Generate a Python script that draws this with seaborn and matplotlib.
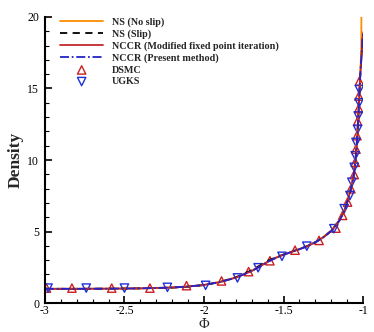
import numpy as np
import pandas as pd
import matplotlib
matplotlib.use("Agg")
import matplotlib.pyplot as plt
import seaborn as sns
from matplotlib.ticker import MultipleLocator


# NCCR (present method) profile, also used as base for the overlapping curves
PHI_CURVE = [-3.0, -2.8, -2.6, -2.4, -2.2, -2.1, -2.0, -1.9, -1.8, -1.7, -1.65, -1.6,
             -1.55, -1.5, -1.45, -1.4, -1.35, -1.3, -1.25, -1.2, -1.15, -1.12, -1.1,
             -1.08, -1.06, -1.05, -1.045, -1.04, -1.035, -1.03, -1.025, -1.02, -1.015,
             -1.01, -1.005, -1.0]
RHO_PRESENT = [1.0, 1.0, 1.01, 1.03, 1.09, 1.16, 1.27, 1.47, 1.78, 2.25, 2.55, 2.88,
               3.15, 3.38, 3.58, 3.77, 3.98, 4.25, 4.6, 5.05, 5.75, 6.4, 7.05,
               7.85, 8.85, 9.8, 10.4, 11.1, 12.0, 13.0, 14.3, 15.6, 16.5,
               17.3, 18.3, 19.0]
RHO_MODIFIED = [1.0, 1.0, 1.01, 1.03, 1.09, 1.16, 1.27, 1.47, 1.78, 2.24, 2.55, 2.89,
                3.16, 3.38, 3.58, 3.77, 3.98, 4.25, 4.6, 5.05, 5.75, 6.4, 7.05,
                7.85, 8.85, 9.8, 10.4, 11.1, 12.0, 13.0, 14.3, 15.6, 16.5,
                17.3, 18.2, 18.9]
RHO_NS_SLIP = [1.0, 1.0, 1.01, 1.03, 1.08, 1.15, 1.26, 1.48, 1.8, 2.3, 2.62, 2.95,
               3.2, 3.4, 3.59, 3.78, 3.99, 4.26, 4.6, 5.05, 5.75, 6.4, 7.05,
               7.85, 8.85, 9.8, 10.4, 11.1, 12.0, 13.0, 14.3, 15.6, 16.5,
               17.3, 18.2, 18.9]

PHI_NOSLIP = [-3.0, -2.8, -2.6, -2.4, -2.2, -2.1, -2.0, -1.9, -1.8, -1.7, -1.65, -1.6,
              -1.55, -1.5, -1.45, -1.4, -1.35, -1.3, -1.25, -1.2, -1.15, -1.12, -1.1,
              -1.08, -1.06, -1.05, -1.04, -1.03, -1.025, -1.02, -1.015, -1.012, -1.011]
RHO_NOSLIP = [1.0, 1.0, 1.01, 1.03, 1.09, 1.16, 1.27, 1.48, 1.8, 2.27, 2.58, 2.9,
              3.17, 3.39, 3.59, 3.78, 3.99, 4.27, 4.62, 5.08, 5.8, 6.45, 7.1,
              7.95, 9.0, 10.0, 11.4, 13.4, 14.4, 15.4, 16.9, 18.0, 20.0]

PHI_DSMC = [-2.99, -2.83, -2.58, -2.34, -2.11, -1.89, -1.72, -1.586, -1.428, -1.277,
            -1.171, -1.129, -1.098, -1.077, -1.056, -1.050, -1.045, -1.039, -1.035,
            -1.028, -1.027, -1.024]
RHO_DSMC = [1.05, 1.05, 1.05, 1.05, 1.22, 1.55, 2.2, 2.96, 3.7, 4.38,
            5.24, 6.13, 7.06, 7.99, 8.98, 9.84, 10.76, 11.7, 12.7,
            13.6, 14.47, 15.5]

PHI_UGKS = [-2.98, -2.74, -2.50, -2.23, -1.99, -1.79, -1.66, -1.51, -1.354, -1.184,
            -1.119, -1.083, -1.071, -1.056, -1.050, -1.045, -1.035, -1.031, -1.025, -1.024]
RHO_UGKS = [1.05, 1.05, 1.05, 1.1, 1.24, 1.76, 2.47, 3.27, 3.98, 5.2,
            6.6, 7.52, 8.45, 9.49, 10.3, 11.23, 12.15, 13.08, 14.0, 14.93]

X_TICKS = [-3, -2.5, -2, -1.5, -1]
X_TICK_LABELS = ["-3", "-2.5", "-2", "-1.5", "-1"]
Y_TICKS = [0, 5, 10, 15, 20]

SERIF = ["Liberation Serif", "DejaVu Serif"]


def main():
    sns.set_style("ticks")
    plt.rcParams["font.family"] = SERIF

    fig = plt.figure(figsize=(3.74, 3.32), dpi=100)
    ax = fig.add_axes([0.120, 0.087, 0.851, 0.862])

    sns.lineplot(x=PHI_NOSLIP, y=RHO_NOSLIP, ax=ax, sort=False, estimator=None,
                 color="#ff8c00", linewidth=1.3, label="NS (No slip)")
    sns.lineplot(x=PHI_CURVE, y=RHO_NS_SLIP, ax=ax, sort=False, estimator=None,
                 color="black", linewidth=1.3, linestyle=(0, (4, 3)), label="NS (Slip)")
    sns.lineplot(x=PHI_CURVE, y=RHO_MODIFIED, ax=ax, sort=False, estimator=None,
                 color="#c0282e", linewidth=1.3, label="NCCR (Modified fixed point iteration)")
    sns.lineplot(x=PHI_CURVE, y=RHO_PRESENT, ax=ax, sort=False, estimator=None,
                 color="#2323c8", linewidth=1.3, linestyle=(0, (5, 1.5, 1, 1.5)),
                 label="NCCR (Present method)")

    sns.scatterplot(x=PHI_DSMC, y=RHO_DSMC, ax=ax, marker="^", s=36,
                    facecolor="none", edgecolor="#cc1f1f", linewidth=1.0, label="DSMC")
    sns.scatterplot(x=PHI_UGKS, y=RHO_UGKS, ax=ax, marker="v", s=36,
                    facecolor="none", edgecolor="#1f2fd8", linewidth=1.0, label="UGKS")

    ax.set_xlim(-3, -1)
    ax.set_ylim(0, 20)
    ax.set_xticks(X_TICKS)
    ax.set_xticklabels(X_TICK_LABELS)
    ax.set_yticks(Y_TICKS)
    ax.xaxis.set_minor_locator(MultipleLocator(0.1))
    ax.yaxis.set_minor_locator(MultipleLocator(1))
    ax.tick_params(which="major", direction="in", length=5, width=1.2,
                   labelsize=8.5, colors="black")
    ax.tick_params(axis="x", which="major", pad=1.5)
    ax.tick_params(axis="y", which="major", pad=4)
    ax.tick_params(which="minor", direction="in", length=3, width=0.8, colors="black")

    sns.despine(ax=ax)
    for side in ["left", "bottom"]:
        ax.spines[side].set_linewidth(1.5)
        ax.spines[side].set_color("black")

    ax.set_xlabel("Φ", fontsize=10.5, labelpad=0.5)
    ax.set_ylabel("Density", fontsize=12.5, fontweight="bold", labelpad=3)

    ax.legend(loc="upper left", bbox_to_anchor=(0.047, 1.0), frameon=False,
              borderpad=0, borderaxespad=0, handlelength=4.3, handletextpad=0.8,
              labelspacing=0.25, prop={"family": SERIF, "weight": "bold", "size": 7.3})

    fig.savefig("out.png", dpi=100)


if __name__ == "__main__":
    main()
